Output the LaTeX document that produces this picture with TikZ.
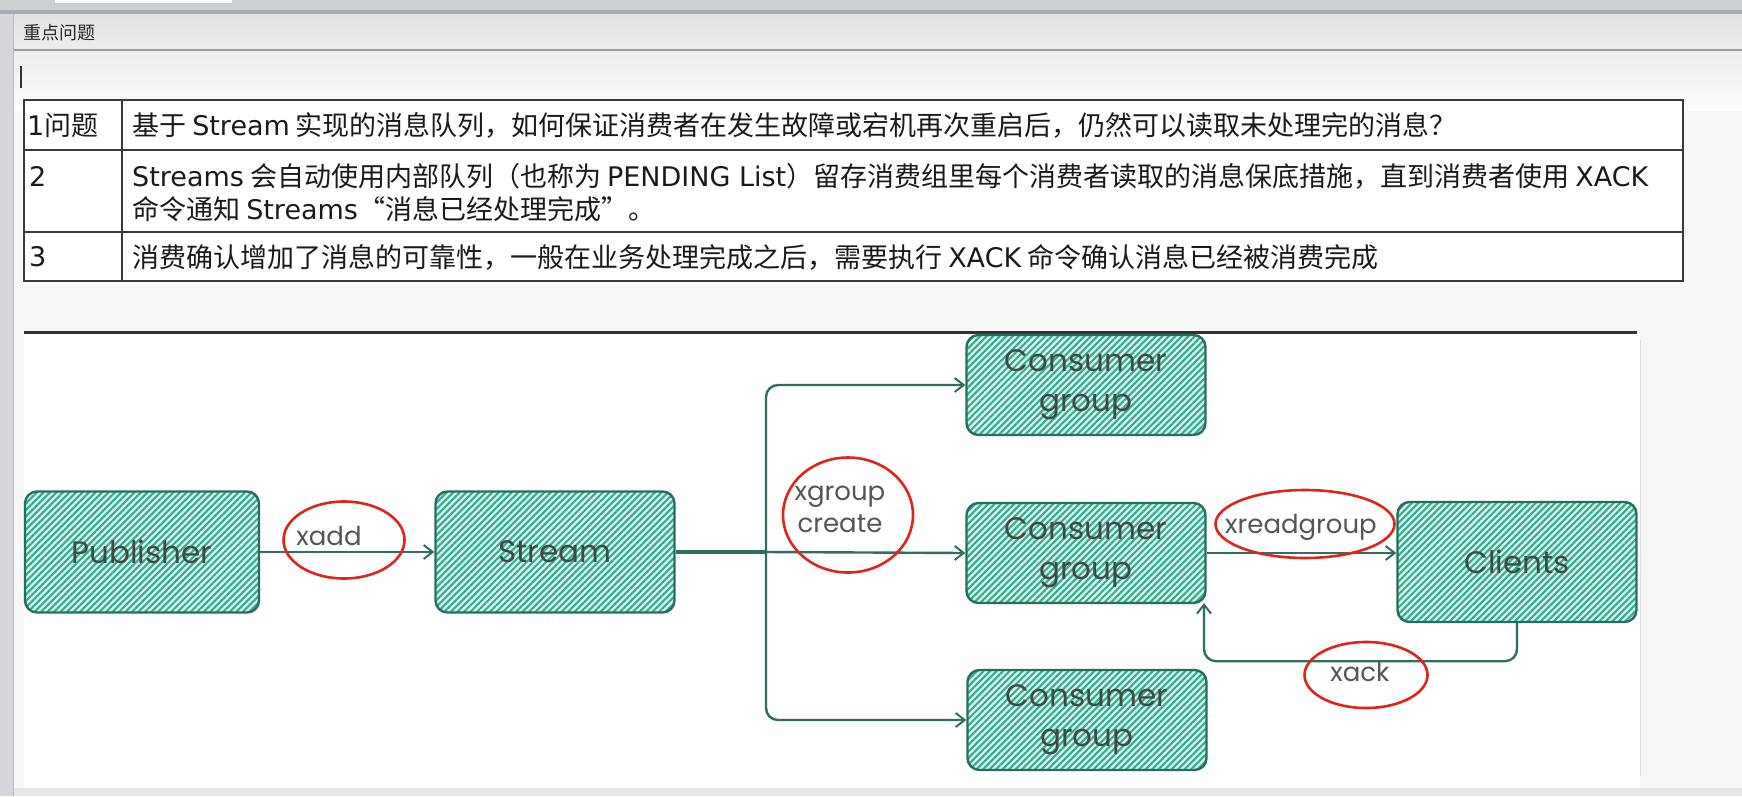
\documentclass[tikz,border=0pt]{standalone}
\usepackage{fontspec}
\usetikzlibrary{arrows.meta,shapes.geometric,patterns.meta}
\setmainfont{Liberation Sans}
\newfontfamily\cjk{Noto Sans CJK SC}
\newfontfamily\lat{DejaVu Sans}
\newfontfamily\hand{Poppins}
\definecolor{pagebg}{HTML}{F7F7F7}
\definecolor{topstrip}{HTML}{CFCFCF}
\definecolor{blueline}{HTML}{A4ACB6}
\definecolor{hdrtop}{HTML}{E2E2E2}
\definecolor{hdrbot}{HTML}{EEEEEE}
\definecolor{hdrline}{HTML}{9C9C9C}
\definecolor{leftstrip}{HTML}{D3D7DC}
\definecolor{botstrip}{HTML}{E6E6E6}
\definecolor{tableline}{HTML}{3A3A3A}
\definecolor{tabletext}{HTML}{1A1A1A}
\definecolor{boxline}{HTML}{24705F}
\definecolor{hatch}{HTML}{34AB8F}
\definecolor{boxbg}{HTML}{D6F5EE}
\definecolor{boxtext}{HTML}{3F4A47}
\definecolor{arrowc}{HTML}{2F6E60}
\definecolor{ringred}{HTML}{E0241B}
\definecolor{lbltext}{HTML}{555555}
\begin{document}
\begin{tikzpicture}[x=1pt,y=-1pt,
  tcell/.style={anchor=west,inner sep=0pt,text=tabletext,font=\cjk\fontsize{27}{32}\selectfont},
  cbox/.style={draw=boxline,line width=2.4pt,rounded corners=12pt,
    preaction={fill=boxbg},
    pattern={Lines[angle=45,distance=4.6pt,line width=2.1pt]},pattern color=hatch,
    minimum width=239pt,text=boxtext,align=center,
    font=\hand\fontsize{31}{40}\selectfont},
  link/.style={draw=arrowc,line width=2.4pt,-{Straight Barb[length=9pt,width=14pt,line width=2pt]}},
  trunk/.style={draw=arrowc,line width=3.6pt},
  redring/.style={draw=ringred,line width=2.6pt,ellipse,inner sep=0pt},
  lbl/.style={text=lbltext,inner sep=0pt,align=center,font=\hand\fontsize{26}{32}\selectfont}]
\useasboundingbox (0,0) rectangle (1742,796);
% window chrome
\fill[pagebg] (0,0) rectangle (1742,796);
\fill[topstrip] (0,0) rectangle (1742,11);
\fill[white!90!topstrip] (55,0) rectangle (232,3);
\fill[blueline] (0,10) rectangle (1742,14);
\shade[top color=hdrtop,bottom color=hdrbot] (0,14) rectangle (1742,50);
\draw[hdrline,line width=1.5pt] (14,50) -- (1742,50);
\shade[top color=hdrbot,bottom color=white!60!pagebg] (14,51) rectangle (1742,110);
\fill[leftstrip] (0,14) rectangle (13,796);
\draw[hdrline!70,line width=1pt] (13.5,14) -- (13.5,796);
\fill[botstrip] (14,788) rectangle (1742,796);
\node[anchor=west,inner sep=0pt,text=black!85,font=\cjk\fontsize{18}{20}\selectfont] (hdr) at (23,33) {重点问题};
\draw[black!80,line width=1.5pt] (21,66) -- (21,88);
% table
\fill[white] (24,100) rectangle (1683,281);
\draw[tableline,line width=2pt] (24,100) rectangle (1683,281);
\draw[tableline,line width=2pt] (24,150) -- (1683,150) (24,232) -- (1683,232) (122,100) -- (122,281);
\node[tcell] (c1a) at (27,125) {{\lat 1}问题};
\node[tcell] (c1b) at (132,125) {基于 {\lat Stream} 实现的消息队列，如何保证消费者在发生故障或宕机再次重启后，仍然可以读取未处理完的消息？};
\node[tcell] (c2a) at (29,176) {\lat 2};
\node[tcell] (c2b) at (132,176) {{\lat Streams} 会自动使用内部队列（也称为 {\lat PENDING List}）留存消费组里每个消费者读取的消息保底措施，直到消费者使用 {\lat XACK}};
\node[tcell] (c2c) at (132,209) {命令通知 {\lat Streams}“消息已经处理完成”。};
\node[tcell] (c3a) at (29,257) {\lat 3};
\node[tcell] (c3b) at (132,257) {消费确认增加了消息的可靠性，一般在业务处理完成之后，需要执行 {\lat XACK} 命令确认消息已经被消费完成};
% diagram area
\fill[white] (24,333) rectangle (1640,788);
\draw[black!80,line width=3pt] (24,332) -- (1637,332);
\draw[black!12,line width=1pt] (1640,340) -- (1640,776);
% boxes
\node[cbox,minimum width=234pt,minimum height=121pt] (pub) at (142,552) {Publisher};
\node[cbox,minimum height=121pt] (stream) at (555,552) {Stream};
\node[cbox,minimum height=100pt] (cg1) at (1086,385) {Consumer\\group};
\node[cbox,minimum height=100pt] (cg2) at (1086,553) {Consumer\\group};
\node[cbox,minimum height=100pt] (cg3) at (1087,720) {Consumer\\group};
\node[cbox,minimum height=120pt] (clients) at (1517,562) {Clients};
% connectors
\coordinate (split) at (766,552);
\draw[link] (pub.east) -- (stream.west);
\draw[trunk] (stream.east) -- (split);
\draw[link,rounded corners=12pt] (split) |- (cg1.west);
\draw[link] (split) -- (cg2.west);
\draw[link,rounded corners=12pt] (split) |- (cg3.west);
\draw[link] (cg2.east) -- (cg2.east -| clients.west);
\coordinate (ackend) at (1204,603);
\draw[link,rounded corners=12pt] (clients.south) -- ++(0,38) -| (ackend);
% labels with red rings
\node[redring,minimum width=121pt,minimum height=77pt] (ring1) at (344,540) {};
\node[lbl] (xadd) at (329,536) {xadd};
\node[redring,minimum width=130pt,minimum height=115pt] (ring2) at (848,515) {};
\node[lbl] (xgc) at (840,509) {xgroup\\create};
\node[redring,minimum width=179pt,minimum height=68pt] (ring3) at (1305,524) {};
\node[lbl] (xrg) at (1301,527) {xreadgroup};
\node[redring,minimum width=123pt,minimum height=66pt] (ring4) at (1366,675) {};
\node[lbl] (xack) at (1360,672) {xack};
\end{tikzpicture}
\end{document}
